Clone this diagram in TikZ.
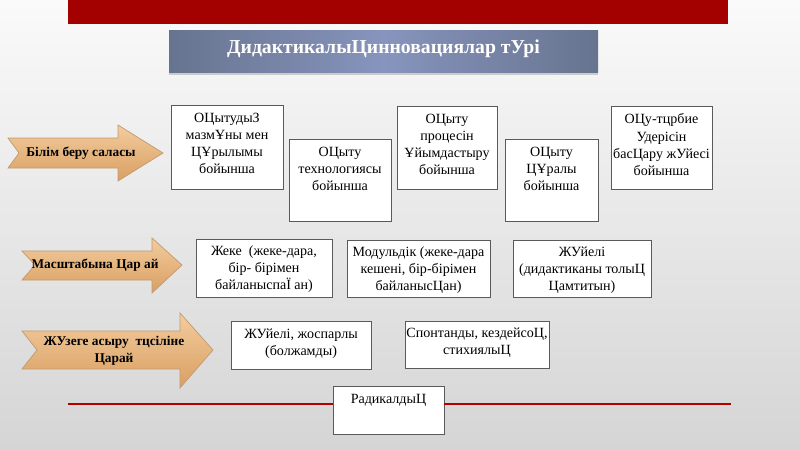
\documentclass[tikz,border=0pt]{standalone}
\usepackage{fontspec}
\setmainfont{Liberation Serif}
\usetikzlibrary{positioning,fit,shadows}

\definecolor{bgtop}{HTML}{FAFAFA}
\definecolor{bgbot}{HTML}{D5D5D5}
\definecolor{barred}{HTML}{A30000}
\definecolor{linered}{HTML}{B00000}
\definecolor{titleblue}{HTML}{67748F}
\definecolor{titlelight}{HTML}{8794BD}
\definecolor{arrowtop}{HTML}{F3CC9E}
\definecolor{arrowbot}{HTML}{D99F62}
\definecolor{arrowline}{HTML}{C29A70}
\definecolor{boxline}{HTML}{5A5A5A}

\tikzset{
  box/.style={draw=boxline, fill=white, inner sep=0pt, line width=0.6pt},
  lbl/.style={align=center, inner sep=0pt, font=\fontsize{10}{12.2}\selectfont},
  arrowbody/.style={draw=arrowline, top color=arrowtop, bottom color=arrowbot, line width=0.5pt},
  arrowlbl/.style={align=center, inner sep=0pt, font=\fontsize{9.5}{12}\selectfont\bfseries},
  redline/.style={draw=linered, line width=1.6pt}
}

\begin{document}
\begin{tikzpicture}[x=0.025cm, y=-0.025cm]
    % Background
    \useasboundingbox (0,0) rectangle (800,449);
    \fill[top color=bgtop, bottom color=bgbot] (0,0) rectangle (800,449);
    \fill[barred] (68,0) rectangle (728,24);

    % Title
    \node[fit={(169,30) (598,72)}, inner sep=0pt, left color=titleblue, right color=titleblue, middle color=titlelight,
          drop shadow={shadow xshift=0pt, shadow yshift=-2pt, opacity=.35}] (tbox) {};
    \node[text=white, font=\fontsize{14}{16}\selectfont\bfseries] (title) at ([yshift=1.5pt]tbox.center) {ДидактикалыЦинновациялар тУрі};

    % Arrows
    \path[arrowbody] (8,138) -- (118,138) -- (118,125) -- (163,153) -- (118,181) -- (118,168) -- (8,168) -- (19,153) -- cycle;
    \node[arrowlbl] (a1) at (81,153) {Білім беру саласы};
    \path[arrowbody] (22,251) -- (152,251) -- (152,238) -- (182,265) -- (152,293) -- (152,280) -- (22,280) -- (35,265) -- cycle;
    \node[arrowlbl] (a2) at (95,265) {Масштабына Цар ай};
    \path[arrowbody] (22,331) -- (180,331) -- (180,313) -- (213,350) -- (180,388) -- (180,369) -- (22,369) -- (37,350) -- cycle;
    \node[arrowlbl] (a3) at (114,351) {ЖУзеге асыру~~тцсіліне\\Царай};

    % Row 1
    \node[box, fit={(171,105) (283,189)}] (b1) {};
    \node[lbl, below=5.7pt of b1.north] (b1t) {ОЦытудыЗ\\мазмҰны мен\\ЦҰрылымы\\бойынша};
    \node[box, fit={(289,139) (391,221)}] (b2) {};
    \node[lbl, below=5.7pt of b2.north] (b2t) {ОЦыту\\технологиясы\\бойынша};
    \node[box, fit={(397,106) (497,189)}] (b3) {};
    \node[lbl, below=5.7pt of b3.north] (b3t) {ОЦыту\\процесін\\Ұйымдастыру\\бойынша};
    \node[box, fit={(505,139) (598,221)}] (b4) {};
    \node[lbl, below=5.7pt of b4.north] (b4t) {ОЦыту\\ЦҰралы\\бойынша};
    \node[box, fit={(611,106) (712,189)}] (b5) {};
    \node[lbl, below=5.7pt of b5.north] (b5t) {ОЦу-тцрбие\\Удерісін\\басЦару жУйесі\\бойынша};

    % Row 2
    \node[box, fit={(196,239) (332,297)}] (c1) {};
    \node[lbl, below=5pt of c1.north] (c1t) {Жеке~~(жеке-дара,\\бір- бірімен\\байланыспаЇ ан)};
    \node[box, fit={(347,240) (490,297)}] (c2) {};
    \node[lbl, below=5pt of c2.north] (c2t) {Модульдік (жеке-дара\\кешені, бір-бірімен\\байланысЦан)};
    \node[box, fit={(513,240) (651,297)}] (c3) {};
    \node[lbl, below=5pt of c3.north] (c3t) {ЖУйелі\\(дидактиканы толыЦ\\Цамтитын)};

    % Row 3
    \node[box, fit={(231,321) (371,369)}] (d1) {};
    \node[lbl, below=5.7pt of d1.north] (d1t) {ЖУйелі, жоспарлы\\(болжамды)};
    \node[box, fit={(405,321) (549,368)}] (d2) {};
    \node[lbl, below=5pt of d2.north] (d2t) {Спонтанды, кездейсоЦ,\\стихиялыЦ};

    % Bottom line
    \coordinate (lineL) at (68,404);
    \coordinate (lineR) at (731,404);
    \node[box, fit={(333,386) (444,434)}] (d3) {};
    \node[lbl, below=5.7pt of d3.north] (d3t) {РадикалдыЦ};
    \draw[redline] (lineL) -- (lineL -| d3.west);
    \draw[redline] (lineR -| d3.east) -- (lineR);
\end{tikzpicture}
\end{document}
